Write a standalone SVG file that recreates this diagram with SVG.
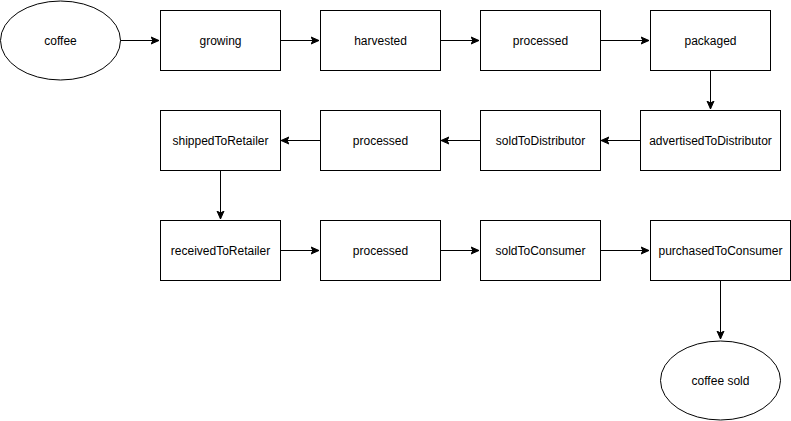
<svg xmlns="http://www.w3.org/2000/svg" width="791" height="421" viewBox="0 0 791 421">
<defs>
<style>
.n{fill:#fff;stroke:#000;stroke-width:1}
.t{font-family:"Liberation Sans",Arial,sans-serif;font-size:12px;fill:#000;text-anchor:middle;dominant-baseline:central}
.e{fill:none;stroke:#000;stroke-width:1}
</style>
<marker id="a" markerUnits="userSpaceOnUse" markerWidth="10" markerHeight="10" refX="8" refY="4" orient="auto" viewBox="0 0 10 8">
<path d="M0,0.5 L8,4 L0,7.5 L2,4 Z" fill="#000" stroke="#000" stroke-width="1"/>
</marker>
</defs>
<rect width="791" height="421" fill="#fff"/>
<g id="connectors">
<path class="e" d="M120,40.5 H159" marker-end="url(#a)"/>
<path class="e" d="M280,40.5 H319" marker-end="url(#a)"/>
<path class="e" d="M440,40.5 H479" marker-end="url(#a)"/>
<path class="e" d="M600,40.5 H649" marker-end="url(#a)"/>
<path class="e" d="M710.5,70 V109" marker-end="url(#a)"/>
<path class="e" d="M640,140.5 H601" marker-end="url(#a)"/>
<path class="e" d="M480,140.5 H441" marker-end="url(#a)"/>
<path class="e" d="M320,140.5 H281" marker-end="url(#a)"/>
<path class="e" d="M220.5,170 V219" marker-end="url(#a)"/>
<path class="e" d="M280,250.5 H319" marker-end="url(#a)"/>
<path class="e" d="M440,250.5 H479" marker-end="url(#a)"/>
<path class="e" d="M600,250.5 H649" marker-end="url(#a)"/>
<path class="e" d="M720.5,280 V339" marker-end="url(#a)"/>
</g>
<g id="coffee"><ellipse class="n" cx="60.5" cy="40.5" rx="60" ry="39.5"/><text class="t" x="60.5" y="40.5">coffee</text></g>
<g id="growing"><rect class="n" x="160.5" y="10.5" width="120" height="60"/><text class="t" x="220.5" y="40.5">growing</text></g>
<g id="harvested"><rect class="n" x="320.5" y="10.5" width="120" height="60"/><text class="t" x="380.5" y="40.5">harvested</text></g>
<g id="processed1"><rect class="n" x="480.5" y="10.5" width="120" height="60"/><text class="t" x="540.5" y="40.5">processed</text></g>
<g id="packaged"><rect class="n" x="650.5" y="10.5" width="120" height="60"/><text class="t" x="710.5" y="40.5">packaged</text></g>
<g id="advertisedToDistributor"><rect class="n" x="640.5" y="110.5" width="140" height="60"/><text class="t" x="710.5" y="140.5">advertisedToDistributor</text></g>
<g id="soldToDistributor"><rect class="n" x="480.5" y="110.5" width="120" height="60"/><text class="t" x="540.5" y="140.5">soldToDistributor</text></g>
<g id="processed2"><rect class="n" x="320.5" y="110.5" width="120" height="60"/><text class="t" x="380.5" y="140.5">processed</text></g>
<g id="shippedToRetailer"><rect class="n" x="160.5" y="110.5" width="120" height="60"/><text class="t" x="220.5" y="140.5">shippedToRetailer</text></g>
<g id="receivedToRetailer"><rect class="n" x="160.5" y="220.5" width="120" height="60"/><text class="t" x="220.5" y="250.5">receivedToRetailer</text></g>
<g id="processed3"><rect class="n" x="320.5" y="220.5" width="120" height="60"/><text class="t" x="380.5" y="250.5">processed</text></g>
<g id="soldToConsumer"><rect class="n" x="480.5" y="220.5" width="120" height="60"/><text class="t" x="540.5" y="250.5">soldToConsumer</text></g>
<g id="purchasedToConsumer"><rect class="n" x="650.5" y="220.5" width="140" height="60"/><text class="t" x="720.5" y="250.5">purchasedToConsumer</text></g>
<g id="coffeeSold"><ellipse class="n" cx="720.5" cy="380.5" rx="60" ry="39.5"/><text class="t" x="720.5" y="380.5">coffee sold</text></g>
</svg>
